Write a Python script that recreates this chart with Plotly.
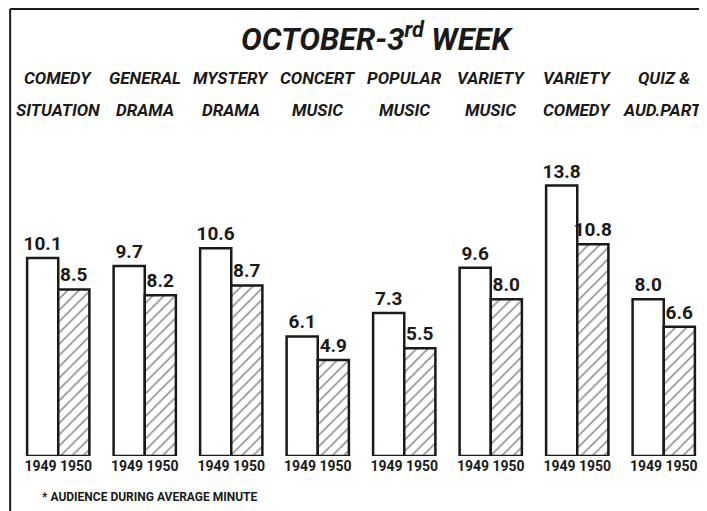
import plotly.graph_objects as go

categories_top = ['COMEDY', 'GENERAL', 'MYSTERY', 'CONCERT', 'POPULAR', 'VARIETY', 'VARIETY', 'QUIZ &']
categories_bottom = ['SITUATION', 'DRAMA', 'DRAMA', 'MUSIC', 'MUSIC', 'MUSIC', 'COMEDY', 'AUD.PART.']
years = ['1949', '1950']
values_1949 = [10.1, 9.7, 10.6, 6.1, 7.3, 9.6, 13.8, 8.0]
values_1950 = [8.5, 8.2, 8.7, 4.9, 5.5, 8.0, 10.8, 6.6]

FONT = 'Roboto, Liberation Sans, sans-serif'
INK = '#1a1a1a'
xs = list(range(len(categories_top)))

fig = go.Figure()
fig.add_bar(
    x=xs, y=values_1949, name=years[0],
    marker=dict(color='white', line=dict(color=INK, width=2.5)),
    text=[f'{v:.1f}' for v in values_1949], textposition='outside', constraintext='none',
    textfont=dict(family=FONT, size=19, color=INK, weight='bold'),
    cliponaxis=False,
)
fig.add_bar(
    x=xs, y=values_1950, name=years[1],
    marker=dict(color='white', line=dict(color=INK, width=2.5),
                pattern=dict(shape='/', fgcolor='#222222', bgcolor='white', size=8, solidity=0.2)),
    text=[f'{v:.1f}' for v in values_1950], textposition='outside', constraintext='none',
    textfont=dict(family=FONT, size=19, color=INK, weight='bold'),
    cliponaxis=False,
)

# category labels, two lines above the bars
for i, (a, b) in enumerate(zip(categories_top, categories_bottom)):
    for txt, yy in ((a, 1.286), (b, 1.177)):
        fig.add_annotation(x=i, y=yy, xref='x', yref='paper', yanchor='middle', text=txt,
                           showarrow=False,
                           font=dict(family=FONT, size=17, color=INK, weight='bold', style='italic'))

fig.add_annotation(x=0.523, y=1.422, xref='paper', yref='paper', yanchor='middle',
                   text='OCTOBER-3<sup>rd</sup> WEEK', showarrow=False,
                   font=dict(family=FONT, size=31, color=INK, weight='bold', style='italic'))

fig.add_annotation(x=0.036, y=-0.139, xref='paper', yref='paper', xanchor='left', yanchor='middle',
                   text='* AUDIENCE DURING AVERAGE MINUTE', showarrow=False,
                   font=dict(family=FONT, size=12, color=INK, weight='bold'))

# frame lines (left and top)
fig.add_shape(type='line', xref='paper', yref='paper', x0=-0.007, x1=-0.007, y0=-0.2, y1=1.52,
              line=dict(color=INK, width=2))
fig.add_shape(type='line', xref='paper', yref='paper', x0=-0.007, x1=1.0, y0=1.52, y1=1.52,
              line=dict(color=INK, width=2))

# page body has an 8px margin, so the figure is sized to fit the window
fig.update_layout(
    width=699, height=503,
    margin=dict(l=7, r=0, t=154, b=55),
    paper_bgcolor='white', plot_bgcolor='white',
    barmode='group', bargap=0.28, bargroupgap=0,
    showlegend=False,
    xaxis=dict(range=[-0.5, 7.5], tickvals=xs, ticktext=['1949 1950'] * len(xs),
               showgrid=False, zeroline=False, showline=False, ticks='',
               tickfont=dict(family=FONT, size=14, color=INK, weight='bold')),
    yaxis=dict(range=[0, 15], visible=False),
)

fig.write_html('out.html')
